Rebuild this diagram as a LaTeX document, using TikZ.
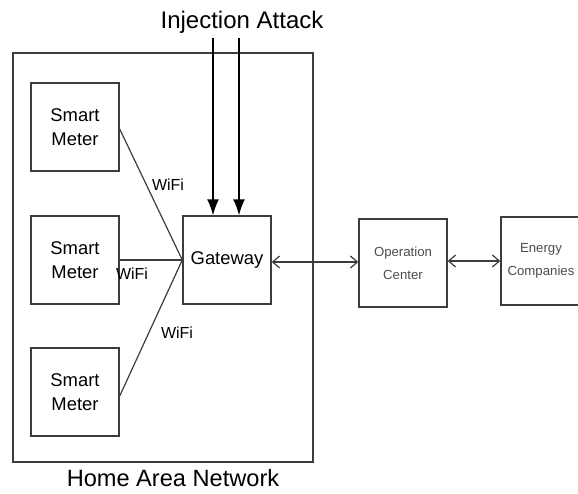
\documentclass[tikz,border=0pt]{standalone}
\usepackage{fontspec}
\setmainfont{Liberation Sans}
\definecolor{line1}{RGB}{60, 60, 60}
\usetikzlibrary{arrows.meta, positioning, calc}

\tikzset{
  unit/.style={draw=line1, line width=0.7pt, minimum width=44pt, minimum height=44pt, align=center, inner sep=1pt},
  meter/.style={unit, font=\fontsize{9.2}{12}\selectfont},
  remote/.style={unit, text=black!70, font=\fontsize{6.6}{11.5}\selectfont},
  wifi/.style={font=\fontsize{8}{9}\selectfont},
  link/.style={draw=line1, line width=0.6pt},
  twoway/.style={link, {Straight Barb[length=3.5pt,width=6pt]}-{Straight Barb[length=3.5pt,width=6pt]}},
}

\begin{document}
\begin{tikzpicture}[x=0.5pt, y=-0.5pt]
  \useasboundingbox (0,0) rectangle (578,493);

  % home area network
  \node[draw=line1, line width=0.7pt, minimum width=150pt, minimum height=204.5pt] (han) at (163,257.5) {};
  \node[font=\fontsize{11.8}{14}\selectfont] (hanlabel) at (173,478) {Home Area Network};

  \node[meter] (meter1) at (75,127) {Smart\\Meter};
  \node[meter] (meter2) at (75,260) {Smart\\Meter};
  \node[meter] (meter3) at (75,392) {Smart\\Meter};
  \node[meter] (gw) at (227,260) {Gateway};

  \node[remote] (opc) at (403,263) {Operation\\Center};
  \node[remote, minimum width=40pt] (energy) at (541,261) {Energy\\Companies};

  % wireless links
  \draw[link] (meter1.east |- 0,129) -- (gw.west);
  \draw[link] (meter2.east) -- (gw.west);
  \draw[link] (meter3.east |- 0,396) -- (gw.west);
  \node[wifi] (wifi1) at (168,185) {WiFi};
  \node[wifi] (wifi2) at (132,274) {WiFi};
  \node[wifi] (wifi3) at (177,333) {WiFi};

  % attack on the gateway
  \node[font=\fontsize{12}{14}\selectfont] (attack) at (242,22) {Injection Attack};
  \coordinate (in1) at (213,38);
  \coordinate (in2) at (239,38);
  \draw[link, draw=black, line width=0.8pt, -{Latex[length=8pt,width=6pt]}] (in1) -- (in1 |- gw.north);
  \draw[link, draw=black, line width=0.8pt, -{Latex[length=8pt,width=6pt]}] (in2) -- (in2 |- gw.north);

  \draw[twoway] (gw.east |- 0,262) -- (opc.west |- 0,262);
  \draw[twoway] (opc.east |- 0,261) -- (energy.west |- 0,261);
\end{tikzpicture}
\end{document}
